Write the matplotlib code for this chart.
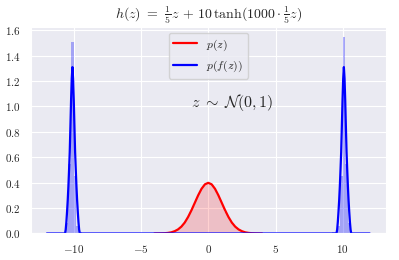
import numpy as np
import matplotlib
matplotlib.use("Agg")
from matplotlib import pyplot as plt
from matplotlib.ticker import FuncFormatter
import seaborn as sns

# histogram of z (bin width 0.2, edges -3.6 .. 3.6)
z_bin_left = [-3.6, -3.4, -3.2, -3.0, -2.8, -2.6, -2.4, -2.2, -2.0, -1.8, -1.6, -1.4,
              -1.2, -1.0, -0.8, -0.6, -0.4, -0.2, 0.0, 0.2, 0.4, 0.6, 0.8, 1.0,
              1.2, 1.4, 1.6, 1.8, 2.0, 2.2, 2.4, 2.6, 2.8, 3.0, 3.2, 3.4]
z_hist = [0.001, 0.002, 0.003, 0.006, 0.010, 0.017, 0.028, 0.045, 0.064, 0.095, 0.128, 0.172,
          0.216, 0.268, 0.310, 0.352, 0.383, 0.395, 0.398, 0.380, 0.354, 0.312, 0.265, 0.219,
          0.170, 0.131, 0.093, 0.066, 0.043, 0.029, 0.017, 0.011, 0.006, 0.003, 0.002, 0.001]

# kde of z
kde_z_x = [-4.0, -3.75, -3.5, -3.25, -3.0, -2.75, -2.5, -2.25, -2.0, -1.75, -1.5, -1.25,
           -1.0, -0.75, -0.5, -0.25, 0.0, 0.25, 0.5, 0.75, 1.0, 1.25, 1.5, 1.75,
           2.0, 2.25, 2.5, 2.75, 3.0, 3.25, 3.5, 3.75, 4.0]
kde_z_y = [0.0001, 0.0004, 0.0009, 0.002, 0.0044, 0.009, 0.018, 0.032, 0.054, 0.086, 0.130, 0.183,
           0.242, 0.301, 0.352, 0.387, 0.399, 0.387, 0.352, 0.301, 0.242, 0.183, 0.130, 0.086,
           0.054, 0.032, 0.018, 0.009, 0.0044, 0.002, 0.0009, 0.0004, 0.0001]

# histogram of f(z) (bin width 0.2), only non-empty bins
fz_bin_left = [-10.6, -10.4, -10.2, -10.0, -9.8, -9.6, -9.4, -9.2, -9.0, -8.8, -8.6,
               7.6, 7.8, 8.0, 8.2, 8.4, 8.6, 8.8, 9.0, 9.2, 9.4, 9.6, 9.8, 10.0, 10.2, 10.4]
fz_hist = [0.08, 0.55, 1.51, 0.45, 0.06, 0.01, 0.006, 0.004, 0.004, 0.003, 0.003,
           0.003, 0.003, 0.004, 0.004, 0.004, 0.005, 0.005, 0.006, 0.008, 0.01, 0.06, 0.45, 1.55, 0.55, 0.08]

# kde of f(z)
kde_f_x = [-12.0,
           -10.65, -10.6, -10.55, -10.5, -10.45, -10.4, -10.35, -10.3, -10.25, -10.2, -10.15, -10.1,
           -10.05, -10.0, -9.95, -9.9, -9.85, -9.8, -9.75, -9.7, -9.65, -9.6, -9.55,
           9.53, 9.58, 9.63, 9.68, 9.73, 9.78, 9.83, 9.88, 9.93, 9.98, 10.03, 10.08,
           10.13, 10.18, 10.23, 10.28, 10.33, 10.38, 10.43, 10.48, 10.53, 10.58, 10.63,
           12.0]
kde_f_y = [0.0,
           0.0, 0.03, 0.09, 0.17, 0.26, 0.37, 0.50, 0.64, 0.84, 1.05, 1.22, 1.31,
           1.22, 1.05, 0.84, 0.64, 0.50, 0.37, 0.26, 0.17, 0.09, 0.03, 0.0,
           0.0, 0.03, 0.09, 0.17, 0.26, 0.37, 0.50, 0.64, 0.84, 1.05, 1.22, 1.31,
           1.22, 1.05, 0.84, 0.64, 0.50, 0.37, 0.26, 0.17, 0.09, 0.03, 0.0,
           0.0]

sns.set_style("darkgrid")
plt.rcParams['mathtext.fontset'] = 'cm'

fig = plt.figure(figsize=(3.99, 2.60), dpi=100)
ax = fig.add_axes([0.077, 0.102, 0.89, 0.795])

ax.bar(z_bin_left, z_hist, width=0.2, align='edge', color='red', alpha=0.18, linewidth=0)
ax.bar(fz_bin_left, fz_hist, width=0.2, align='edge', color='blue', alpha=0.3, linewidth=0)
ax.plot(kde_z_x, kde_z_y, color='red', lw=1.6, label=r'$p(z)$')
ax.plot(kde_f_x, kde_f_y, color='blue', lw=1.6, label=r'$p(f(z))$')

ax.set_ylim(0, None)
ax.set_xticks([-10, -5, 0, 5, 10])
ax.xaxis.set_major_formatter(FuncFormatter(lambda v, p: r'$%d$' % v))
ax.yaxis.set_major_formatter(FuncFormatter(lambda v, p: r'$%.1f$' % v))
ax.tick_params(labelsize=8, colors='#262626')

ax.text(1.8, 1.03, r'$z \;\sim\; \mathcal{N}(0,1)$', ha='center', va='center', fontsize=11.5)
ax.set_title(r'$h(z) \;=\;\, \frac{1}{5}z \,+\, 10\,\tanh(1000 \cdot \frac{1}{5}z)$', fontsize=10)
ax.legend(loc='upper center', fontsize=8.5)

fig.savefig('out.png', dpi=100)
